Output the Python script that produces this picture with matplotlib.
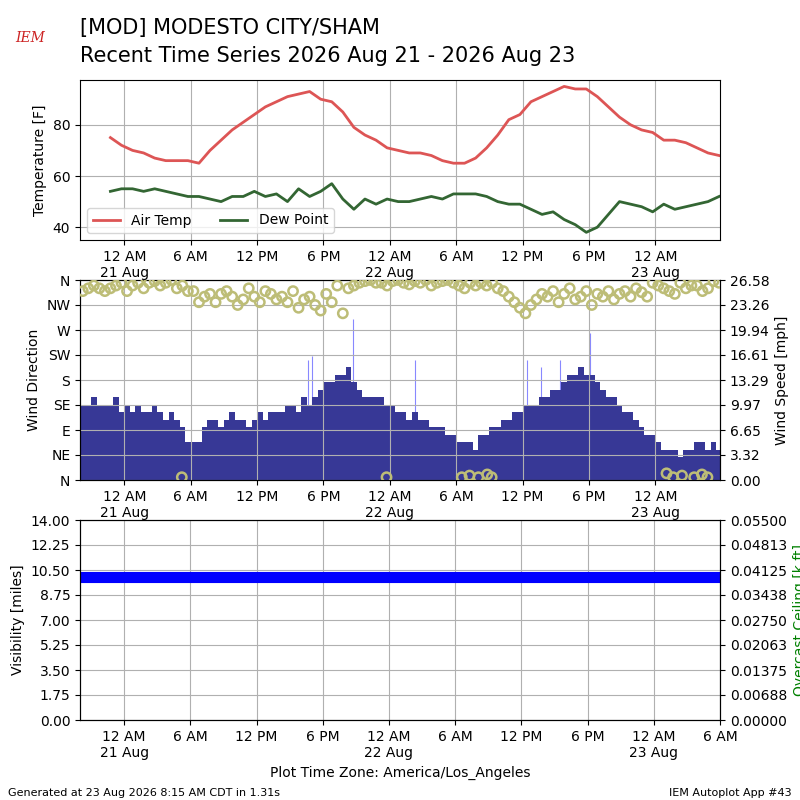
# Meteogram : temperature, vent, visibilite pour MOD

import matplotlib
matplotlib.use("Agg")
import matplotlib.pyplot as plt
import matplotlib.dates as mdates
import numpy as np
import pandas as pd


# ─────────────────────────────────────────────
# Donnees
# ─────────────────────────────────────────────
temp = [75, 72, 70, 69, 67, 66, 66, 66, 65, 70, 74, 78, 81, 84, 87, 89, 91, 92, 93, 90,
        89, 85, 79, 76, 74, 71, 70, 69, 69, 68, 66, 65, 65, 67, 71, 76, 82, 84, 89, 91,
        93, 95, 94, 94, 91, 87, 83, 80, 78, 77, 74, 74, 73, 71, 69, 68]
dwpt = [54, 55, 55, 54, 55, 54, 53, 52, 52, 51, 50, 52, 52, 54, 52, 53, 50, 55, 52, 54,
        57, 51, 47, 51, 49, 51, 50, 50, 51, 52, 51, 53, 53, 53, 52, 50, 49, 49, 47, 45,
        46, 43, 41, 38, 40, 45, 50, 49, 48, 46, 49, 47, 48, 49, 50, 52]

sknt = [10, 10, 11, 10,
        10, 10, 11, 9, 10, 9, 10, 9,
        9, 10, 9, 8, 9, 8, 7, 5, 5, 5, 7, 8,
        8, 7, 8, 9, 8, 8, 7, 8, 9, 8, 9, 9,
        9, 10, 10, 9, 11, 10, 11, 12, 13, 13, 14, 14,
        15, 13, 12, 11, 11, 11, 11, 10, 10, 9, 9, 8,
        9, 8, 8, 7, 7, 7, 6, 6, 5, 5, 5, 4,
        6, 6, 7, 7, 8, 8, 9, 9, 10, 10, 10, 11,
        11, 12, 12, 13, 14, 14, 15, 14, 14, 13, 12, 11,
        11, 10, 9, 9, 8, 7, 6, 6, 5, 4, 4, 4,
        3, 4, 4, 5, 5, 4, 5, 4]
drct = [340, 345, 350, 345,
        340, 345, 350, 355, 340, 350, 355, 345,
        355, 358, 350, 355, 360, 345, 350, 340, 340, 320, 330, 335,
        320, 335, 340, 330, 315, 325, 345, 330, 320, 340, 335, 325,
        330, 320, 340, 310, 325, 330, 315, 305, 335, 320, 350, 300,
        345, 350, 355, 358, 360, 355, 355, 350, 358, 360, 355, 352,
        358, 355, 360, 350, 355, 358, 360, 355, 350, 345, 355, 350,
        355, 350, 355, 345, 340, 330, 320, 310, 300, 315, 325, 335,
        330, 340, 320, 335, 345, 325, 330, 340, 315, 335, 330, 340,
        325, 335, 340, 330, 345, 338, 330, 355, 350, 345, 340, 335,
        355, 345, 350, 350, 340, 345, 358, 355]
# observations proches du nord-est (heures depuis le debut)
ne_hours = [9.2, 27.7, 34.5, 35.2, 36.0, 36.8, 37.2, 53.0, 53.6, 54.4, 55.5, 56.2, 56.7]
ne_drct = [5, 5, 5, 8, 5, 10, 5, 12, 5, 8, 5, 10, 5]
# rafales (heures depuis le debut, mph)
gust_hours = [20.6, 21.0, 24.7, 30.3, 40.4, 41.7, 43.4, 46.1]
gust_vals = [16, 16.5, 21.4, 16, 16, 15, 16, 19.5]


def generate_meteogram():

    start = pd.Timestamp("2026-08-20 20:00")
    t_temp = pd.date_range("2026-08-20 22:45", periods=len(temp), freq="60min")
    t_wind = pd.date_range(start, periods=len(sknt), freq="30min")
    t_ne = [start + pd.Timedelta(hours=h) for h in ne_hours]
    t_gust = [start + pd.Timedelta(hours=h) for h in gust_hours]
    t_vis = pd.date_range(start, "2026-08-23 06:00", freq="10min")
    vis = np.full(len(t_vis), 10.0)

    fig = plt.figure(figsize=(8, 8), dpi=100)
    ax1 = fig.add_axes([0.1, 0.7, 0.8, 0.2])
    ax2 = fig.add_axes([0.1, 0.4, 0.8, 0.25])
    ax3 = fig.add_axes([0.1, 0.1, 0.8, 0.25])

    # Titre
    fig.text(0.1, 0.952, "[MOD] MODESTO CITY/SHAM", fontsize=15, va="bottom")
    fig.text(0.1, 0.917, "Recent Time Series 2026 Aug 21 - 2026 Aug 23", fontsize=15, va="bottom")
    fig.text(0.038, 0.947, "IEM", fontsize=10, color="#cc2222", style="italic",
             family="DejaVu Serif", ha="center")

    # Graphique 1 — Temperature
    ax1.plot(t_temp, temp, color="#dd5555", lw=2, label="Air Temp")
    ax1.plot(t_temp, dwpt, color="#336633", lw=2, label="Dew Point")
    ax1.set_ylim(35, 97.5)
    ax1.set_yticks([40, 60, 80])
    ax1.set_ylabel("Temperature [F]")
    ax1.legend(loc="lower left", ncol=2, fontsize=10)

    # Graphique 2 — Vent
    ticks_spd = np.linspace(0, 26.58, 9)
    ax2b = ax2.twinx()
    ax2b.bar(t_wind, sknt, width=1 / 48., align="edge", color="#373896", zorder=2)
    ax2b.vlines(t_gust, 0, gust_vals, color="#8888ff", lw=0.8, zorder=1)
    ax2b.set_ylim(0, 26.58)
    ax2b.set_yticks(ticks_spd)
    ax2b.set_yticklabels([f"{v + 1e-9:.2f}" for v in ticks_spd])
    ax2b.set_ylabel("Wind Speed [mph]")
    ax2.set_zorder(ax2b.get_zorder() + 1)
    ax2.patch.set_visible(False)
    ax2.scatter(t_wind + pd.Timedelta(minutes=15), drct, s=45, facecolors="none",
                edgecolors="#bdbd77", linewidths=1.8, zorder=3)
    ax2.scatter(t_ne, ne_drct, s=45, facecolors="none", edgecolors="#bdbd77",
                linewidths=1.8, zorder=3)
    ax2.set_ylim(0, 360)
    ax2.set_yticks(range(0, 361, 45))
    ax2.set_yticklabels(["N", "NE", "E", "SE", "S", "SW", "W", "NW", "N"])
    ax2.set_ylabel("Wind Direction")

    # Graphique 3 — Visibilite
    ax3.plot(t_vis, vis, color="blue", lw=8, solid_capstyle="butt")
    ax3.set_ylim(0, 14)
    ax3.set_yticks(np.arange(0, 14.01, 1.75))
    ax3.set_yticklabels([f"{v:.2f}" for v in np.arange(0, 14.01, 1.75)])
    ax3.set_ylabel("Visibility [miles]")
    ax3b = ax3.twinx()
    ax3b.set_ylim(0, 0.055)
    ax3b.set_yticks(np.linspace(0, 0.055, 9))
    ax3b.set_yticklabels([f"{v:.5f}" for v in np.linspace(0, 0.055, 9)])
    ax3b.set_ylabel("Overcast Ceiling [k ft]", color="green")
    ax3.set_xlabel("Plot Time Zone: America/Los_Angeles")

    def fmt(x, pos=None):
        d = mdates.num2date(x)
        h = d.hour % 12 or 12
        s = f"{h} {'AM' if d.hour < 12 else 'PM'}"
        if d.hour == 0:
            s += "\n" + d.strftime("%d %b")
        return s

    for ax in (ax1, ax2, ax3):
        end = "2026-08-23 06:00" if ax is ax3 else "2026-08-23 05:50"
        ax.set_xlim(start, pd.Timestamp(end))
        ax.xaxis.set_major_locator(mdates.HourLocator(byhour=[0, 6, 12, 18]))
        ax.xaxis.set_major_formatter(plt.FuncFormatter(fmt))
        ax.grid(True, color="#b0b0b0", zorder=0)
        ax.set_axisbelow(True)
    ax2b.set_axisbelow(True)

    fig.text(0.01, 0.005, "Generated at 23 Aug 2026 8:15 AM CDT in 1.31s", fontsize=8)
    fig.text(0.99, 0.005, "IEM Autoplot App #43", fontsize=8, ha="right")

    fig.savefig("out.png", dpi=100)
    plt.close()


if __name__ == "__main__":
    generate_meteogram()
